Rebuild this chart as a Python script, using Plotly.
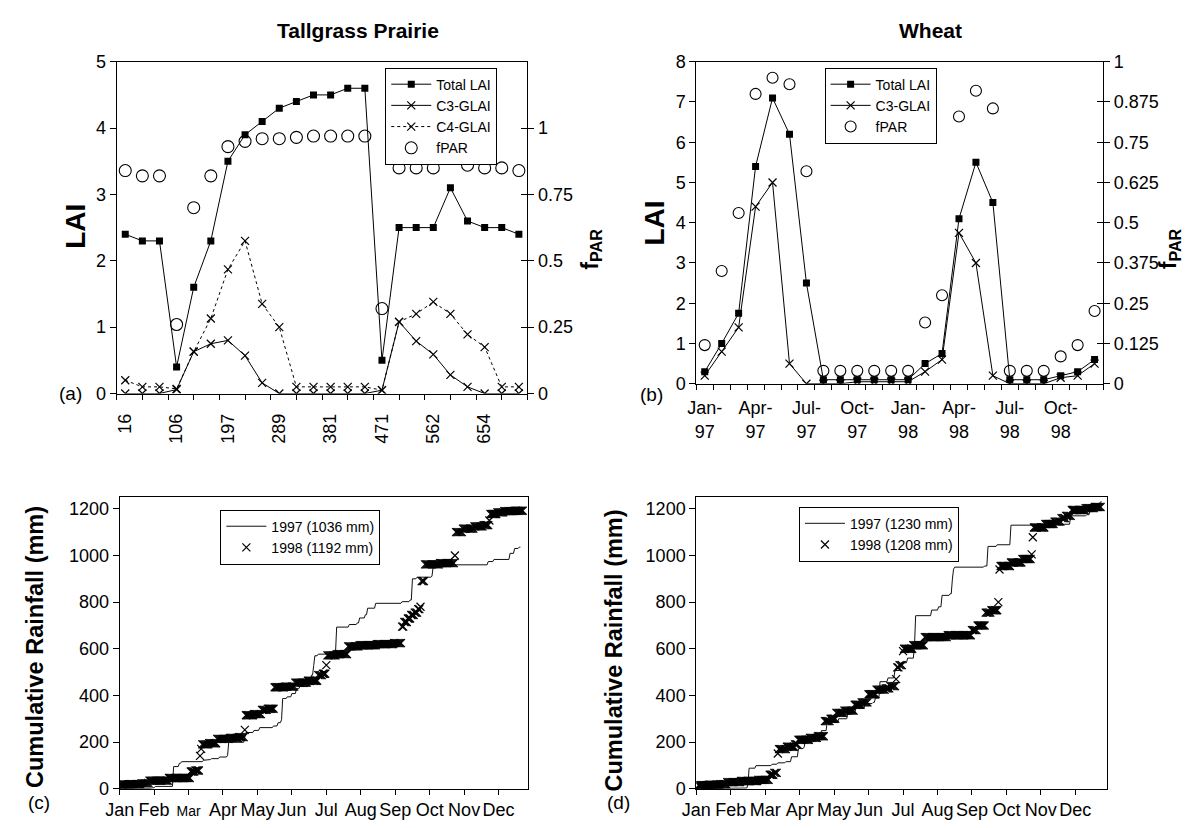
import numpy as np
import plotly.graph_objects as go

W, H = 1185, 828
FONT = "Liberation Sans, Arial, sans-serif"
INK = "black"

# ---------------- (a) Tallgrass prairie: 24 sampling dates (day of run)
PRAIRIE_TICKS = ["16", "106", "197", "289", "381", "471", "562", "654"]
prairie_total = [2.4, 2.3, 2.3, 0.4, 1.6, 2.3, 3.5, 3.9, 4.1, 4.3, 4.4, 4.5,
                 4.5, 4.6, 4.6, 0.5, 2.5, 2.5, 2.5, 3.1, 2.6, 2.5, 2.5, 2.4]
prairie_c3 = [0, 0, 0, 0.06, 0.63, 0.75, 0.8, 0.57, 0.16, 0, 0, 0,
              0, 0, 0, 0.05, 1.08, 0.79, 0.59, 0.28, 0.1, 0, 0, 0]
prairie_c4 = [0.2, 0.1, 0.1, 0.07, 0.63, 1.13, 1.87, 2.3, 1.35, 1.0, 0.1, 0.1,
              0.1, 0.1, 0.1, 0.05, 1.08, 1.2, 1.38, 1.2, 0.89, 0.7, 0.1, 0.1]
prairie_fpar = [0.84, 0.82, 0.82, 0.26, 0.70, 0.82, 0.93, 0.95, 0.96, 0.96, 0.965, 0.97,
                0.97, 0.97, 0.97, 0.32, 0.85, 0.85, 0.85, 0.91, 0.86, 0.85, 0.85, 0.84]

# ---------------- (b) Wheat: monthly samples Jan-97 .. Dec-98
WHEAT_TICKS = ["Jan-<br>97", "Apr-<br>97", "Jul-<br>97", "Oct-<br>97",
               "Jan-<br>98", "Apr-<br>98", "Jul-<br>98", "Oct-<br>98"]
wheat_total = [0.3, 1.0, 1.75, 5.4, 7.1, 6.2, 2.5, 0.1, 0.1, 0.1, 0.1, 0.1,
               0.1, 0.5, 0.75, 4.1, 5.5, 4.5, 0.1, 0.1, 0.1, 0.2, 0.3, 0.6]
wheat_c3 = [0.2, 0.8, 1.4, 4.4, 5.0, 0.5, 0.0, 0.0, 0.0, 0.05, 0.05, 0.05,
            0.05, 0.3, 0.6, 3.75, 3.0, 0.2, 0.0, 0.0, 0.0, 0.15, 0.2, 0.5]
wheat_fpar = [0.12, 0.35, 0.53, 0.90, 0.95, 0.93, 0.66, 0.04, 0.04, 0.04, 0.04, 0.04,
              0.04, 0.19, 0.275, 0.83, 0.91, 0.855, 0.04, 0.04, 0.04, 0.085, 0.12, 0.226]

# ---------------- (c)/(d) daily rain events: (day of year, mm)
MONTHS = ["Jan", "Feb", "Mar", "Apr", "May", "Jun", "Jul", "Aug", "Sep", "Oct", "Nov", "Dec"]

prairie_rain_1997 = [
    (29, 4), (32, 6), (48, 85), (53, 14), (55, 7), (74, 6), (77, 3), (81, 4), (88, 7),
    (95, 7), (96, 56), (110, 21), (111, 21), (118, 9), (123, 12), (135, 7), (139, 14),
    (142, 13), (143, 91), (147, 7), (151, 14), (155, 21), (158, 9), (166, 10), (168, 39),
    (170, 41), (171, 42), (174, 7), (186, 7), (190, 109), (201, 11), (208, 7), (210, 21),
    (215, 14), (217, 28), (224, 21), (247, 7), (254, 7), (256, 91), (260, 7), (273, 4),
    (274, 38), (276, 11), (322, 14), (327, 9), (341, 26), (345, 21), (349, 6)]
prairie_rain_1998 = [
    (2, 18), (10, 2), (20, 3), (26, 2), (27, 10), (44, 11), (63, 28), (67, 4), (71, 63),
    (72, 30), (73, 19), (79, 5), (86, 19), (97, 4), (105, 3), (110, 31), (111, 63),
    (118, 5), (125, 18), (130, 5), (136, 92), (145, 3), (154, 17), (165, 8), (174, 24),
    (178, 6), (181, 37), (182, 42), (190, 5), (200, 33), (210, 5), (225, 5), (240, 4),
    (247, 71), (249, 20), (252, 15), (255, 15), (258, 10), (261, 15), (263, 10),
    (264, 110), (267, 72), (280, 5), (293, 33), (294, 100), (300, 15), (310, 10),
    (318, 5), (323, 20), (324, 28), (330, 7), (336, 5), (345, 2)]
wheat_rain_1997 = [
    (30, 3), (46, 15), (47, 70), (53, 11), (67, 6), (72, 6), (79, 5), (84, 21), (90, 35),
    (95, 7), (96, 35), (105, 11), (110, 24), (115, 35), (125, 16), (133, 25), (140, 20),
    (148, 20), (155, 5), (157, 19), (161, 70), (168, 16), (174, 32), (179, 33), (185, 20),
    (191, 52), (192, 130), (206, 24), (212, 14), (215, 49), (222, 7), (224, 63),
    (225, 42), (226, 9), (252, 5), (255, 84), (263, 7), (275, 84), (300, 4), (327, 36),
    (341, 5), (344, 30), (348, 17), (353, 8)]
wheat_rain_1998 = [
    (3, 15), (12, 2), (22, 3), (28, 8), (40, 5), (55, 5), (65, 22), (69, 8), (72, 83),
    (73, 19), (80, 10), (87, 10), (90, 20), (100, 8), (107, 7), (113, 65), (118, 10),
    (123, 25), (130, 10), (139, 25), (145, 10), (151, 35), (158, 20), (166, 5), (170, 10),
    (175, 30), (176, 50), (178, 10), (181, 60), (182, 10), (190, 15), (200, 35), (220, 8),
    (241, 22), (246, 20), (253, 55), (258, 10), (264, 35), (265, 140), (266, 15),
    (275, 15), (285, 15), (293, 20), (294, 73), (295, 42), (305, 15), (313, 10),
    (319, 15), (323, 10), (328, 25), (340, 8), (348, 5)]
RECORD_LAST_DAY = {"p97": 350, "p98": 352, "w97": 354, "w98": 353}
LEGEND_TOTALS = {"p97": 1036, "p98": 1192, "w97": 1230, "w98": 1208}


def cumulative(events, last_day):
    days = np.arange(1, last_day + 1)
    daily = np.zeros(last_day)
    for d, mm in events:
        daily[d - 1] += mm
    return days, np.cumsum(daily)


def px_x(p):
    return p / W


def px_y(p):
    return 1 - p / H


X_MARK = dict(symbol="x-thin-open", size=8, color=INK, line=dict(color=INK, width=1.2))

fig = go.Figure()
idx = list(range(24))

# ---------- panel (a)
fig.add_trace(go.Scatter(x=idx, y=prairie_total, name="Total LAI", mode="lines+markers",
                         line=dict(color=INK, width=1), marker=dict(symbol="square", size=7, color=INK),
                         xaxis="x", yaxis="y", legend="legend"))
fig.add_trace(go.Scatter(x=idx, y=prairie_c3, name="C3-GLAI", mode="lines+markers",
                         line=dict(color=INK, width=1), marker=X_MARK,
                         xaxis="x", yaxis="y", legend="legend"))
fig.add_trace(go.Scatter(x=idx, y=prairie_c4, name="C4-GLAI", mode="lines+markers",
                         line=dict(color=INK, width=1, dash="dot"), marker=X_MARK,
                         xaxis="x", yaxis="y", legend="legend"))
fig.add_trace(go.Scatter(x=idx, y=prairie_fpar, name="fPAR", mode="markers",
                         marker=dict(symbol="circle-open", size=12, color=INK, line=dict(width=1.1)),
                         xaxis="x", yaxis="y2", legend="legend"))

# ---------- panel (b)
fig.add_trace(go.Scatter(x=idx, y=wheat_total, name="Total LAI", mode="lines+markers",
                         line=dict(color=INK, width=1), marker=dict(symbol="square", size=7, color=INK),
                         xaxis="x2", yaxis="y3", legend="legend2"))
fig.add_trace(go.Scatter(x=idx, y=wheat_c3, name="C3-GLAI", mode="lines+markers",
                         line=dict(color=INK, width=1), marker=X_MARK,
                         xaxis="x2", yaxis="y3", legend="legend2"))
fig.add_trace(go.Scatter(x=idx, y=wheat_fpar, name="fPAR", mode="markers",
                         marker=dict(symbol="circle-open", size=11, color=INK, line=dict(width=1.1)),
                         xaxis="x2", yaxis="y4", legend="legend2"))

# ---------- panels (c) and (d)
for key97, key98, ev97, ev98, xa, ya, lg in [
        ("p97", "p98", prairie_rain_1997, prairie_rain_1998, "x3", "y5", "legend3"),
        ("w97", "w98", wheat_rain_1997, wheat_rain_1998, "x4", "y6", "legend4")]:
    d97, c97 = cumulative(ev97, RECORD_LAST_DAY[key97])
    d98, c98 = cumulative(ev98, RECORD_LAST_DAY[key98])
    fig.add_trace(go.Scatter(x=d97, y=c97, mode="lines", name=f"1997 ({LEGEND_TOTALS[key97]} mm)",
                             line=dict(color="#111", width=1), xaxis=xa, yaxis=ya, legend=lg))
    fig.add_trace(go.Scatter(x=d98, y=c98, mode="markers", name=f"1998 ({LEGEND_TOTALS[key98]} mm)",
                             marker=X_MARK, xaxis=xa, yaxis=ya, legend=lg))

# anchors for the inward half of the crossing fPAR ticks
fig.add_trace(go.Scatter(x=[0], y=[0], mode="markers", marker=dict(opacity=0), showlegend=False,
                         hoverinfo="skip", xaxis="x", yaxis="y7"))
fig.add_trace(go.Scatter(x=[0], y=[0], mode="markers", marker=dict(opacity=0), showlegend=False,
                         hoverinfo="skip", xaxis="x2", yaxis="y8"))

tickfont = dict(family=FONT, size=18, color=INK)
axis_common = dict(showgrid=False, zeroline=False, showline=True, linecolor=INK, linewidth=1,
                   tickcolor=INK, tickwidth=1, tickfont=tickfont)

A_X = [px_x(103), px_x(519)]
A_Y = [px_y(393), px_y(53)]
B_X = [px_x(690), px_x(1102)]
B_Y = [px_y(383), px_y(53)]
C_X = [px_x(106), px_x(520)]
D_X = [px_x(690), px_x(1106)]
CD_Y = [px_y(798), px_y(499)]

mar_small = '<span style="font-size:14px">Mar</span>'

fig.update_layout(
    width=W, height=H, margin=dict(l=0, r=0, t=0, b=0),
    paper_bgcolor="white", plot_bgcolor="white",
    font=dict(family=FONT, color=INK),
    showlegend=True,
    xaxis=dict(**axis_common, domain=A_X, anchor="y", range=[-0.5, 23.5], mirror=True,
               tickmode="array", tickvals=list(range(0, 24, 3)), ticktext=PRAIRIE_TICKS,
               ticks="", tickangle=-90, ticklabelstandoff=12,
               minor=dict(tickmode="array", tickvals=[-0.5 + 1.5 * k for k in range(17)],
                          ticks="outside", ticklen=5, tickcolor=INK, showgrid=False)),
    yaxis=dict(**axis_common, domain=A_Y, anchor="x", range=[0, 5], dtick=1,
               ticks="outside", ticklen=6),
    yaxis2=dict(**axis_common, overlaying="y", anchor="x", side="right", range=[0, 1.25],
                tickmode="array", tickvals=[0, 0.25, 0.5, 0.75, 1],
                ticktext=["0", "0.25", "0.5", "0.75", "1"], ticks="outside", ticklen=6),
    yaxis7=dict(overlaying="y", anchor="x", side="right", range=[0, 1.25], showgrid=False,
                zeroline=False, showline=False, tickmode="array", tickvals=[0, 0.25, 0.5, 0.75, 1],
                ticks="inside", ticklen=6, tickcolor=INK, showticklabels=False),

    xaxis2=dict(**axis_common, domain=B_X, anchor="y3", range=[-0.5, 23.5], mirror=True,
                tickmode="array", tickvals=list(range(0, 24, 3)), ticktext=WHEAT_TICKS,
                ticks="", ticklabelstandoff=8,
                minor=dict(tickmode="array", tickvals=[-0.5 + k for k in range(25)],
                           ticks="outside", ticklen=5, tickcolor=INK, showgrid=False)),
    yaxis3=dict(**axis_common, domain=B_Y, anchor="x2", range=[0, 8], dtick=1,
                ticks="outside", ticklen=6),
    yaxis4=dict(**axis_common, overlaying="y3", anchor="x2", side="right", range=[0, 1],
                tickmode="array", tickvals=[0, 0.125, 0.25, 0.375, 0.5, 0.625, 0.75, 0.875, 1],
                ticktext=["0", "0.125", "0.25", "0.375", "0.5", "0.625", "0.75", "0.875", "1"],
                ticks="outside", ticklen=6),
    yaxis8=dict(overlaying="y3", anchor="x2", side="right", range=[0, 1], showgrid=False,
                zeroline=False, showline=False, tickmode="array",
                tickvals=[0, 0.125, 0.25, 0.375, 0.5, 0.625, 0.75, 0.875, 1],
                ticks="inside", ticklen=6, tickcolor=INK, showticklabels=False),

    xaxis3=dict(**axis_common, domain=C_X, anchor="y5", range=[1, 357], mirror=True,
                tickmode="array", tickvals=[1 + 30 * i for i in range(12)],
                ticktext=[mar_small if m == "Mar" else m for m in MONTHS],
                ticks="outside", ticklen=5),
    yaxis5=dict(**axis_common, domain=CD_Y, anchor="x3", range=[0, 1251], mirror=True,
                tickmode="array", tickvals=list(range(0, 1201, 200)), ticks="outside", ticklen=6),
    xaxis4=dict(**axis_common, domain=D_X, anchor="y6", range=[1, 358.6], mirror=True,
                tickmode="array", tickvals=[1 + 30 * i for i in range(12)], ticktext=MONTHS,
                ticks="outside", ticklen=5),
    yaxis6=dict(**axis_common, domain=CD_Y, anchor="x4", range=[0, 1251], mirror=True,
                tickmode="array", tickvals=list(range(0, 1201, 200)), ticks="outside", ticklen=6),
)

legend_common = dict(bgcolor="white", bordercolor=INK, borderwidth=1,
                     font=dict(family=FONT, size=14, color=INK),
                     xanchor="left", yanchor="top", itemwidth=40, tracegroupgap=0)
fig.update_layout(
    legend=dict(**legend_common, x=px_x(375), y=px_y(59)),
    legend2=dict(**legend_common, x=px_x(820), y=px_y(59)),
    legend3=dict(**legend_common, x=px_x(208), y=px_y(512)),
    legend4=dict(**legend_common, x=px_x(794), y=px_y(509)),
)

# titles, axis labels and panel letters
notes = [
    ("<b>Tallgrass Prairie</b>", 347, 21, 21, 0),
    ("<b>Wheat</b>", 927, 21, 21, 0),
    ("<b>LAI</b>", 61, 222, 28, -90),
    ("<b>LAI</b>", 648, 218, 28, -90),
    ("<b>f<sub>PAR</sub></b>", 583, 245, 23, -90),
    ("<b>f<sub>PAR</sub></b>", 1169, 245, 23, -90),
    ("<b>Cumulative Rainfall (mm)</b>", 20, 653, 23.5, -90),
    ("<b>Cumulative Rainfall (mm)</b>", 607, 656, 23.5, -90),
    ("(a)", 56, 393, 19, 0),
    ("(b)", 645, 394, 19, 0),
    ("(c)", 24, 812, 19, 0),
    ("(d)", 611, 812, 19, 0),
]
for text, x, y, size, ang in notes:
    fig.add_annotation(text=text, x=px_x(x), y=px_y(y), xref="paper", yref="paper",
                       xanchor="center", yanchor="middle", showarrow=False, textangle=ang,
                       font=dict(family=FONT, size=size, color=INK))

fig.write_html("out.html")
